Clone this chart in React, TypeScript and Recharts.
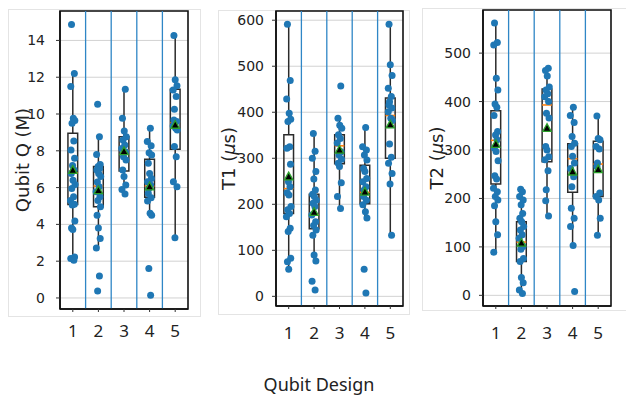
import React from 'react';
import { ComposedChart, Scatter, Line, XAxis, YAxis, CartesianGrid, ReferenceLine, ReferenceArea } from 'recharts';

// qubit designs on the x axis
const CATS = [1, 2, 3, 4, 5];
// horizontal spread of the strip points (in category units)
const JITTER = [-0.05, 0.06, -0.08, 0.02, 0.08, -0.03, 0.04, -0.07, 0.07, -0.01, 0.05, -0.06, 0.01, 0.09, -0.04, 0.03, -0.09, 0.06, -0.02, 0.08, -0.05, 0.0, 0.07, -0.08, 0.04, -0.03];

// Qubit Q (M)
const Q_VALUES = [
  [14.87, 12.2, 11.5, 9.77, 9.65, 9.5, 8.53, 8.05, 7.6, 7.2, 6.95, 6.77, 6.4, 6.17, 5.95, 5.5, 5.3, 5.1, 5.05, 4.19, 3.8, 3.72, 2.23, 2.14, 2.05],
  [10.53, 8.77, 7.8, 7.26, 7.14, 7.05, 6.95, 6.77, 6.6, 6.3, 6.05, 5.77, 5.5, 5.3, 4.96, 4.5, 3.81, 3.23, 2.72, 1.2, 0.38],
  [11.35, 9.77, 9.08, 8.77, 8.59, 8.32, 8.13, 7.95, 7.68, 7.5, 6.95, 6.6, 6.14, 5.9, 5.65],
  [9.22, 8.5, 8.28, 7.9, 7.77, 7.32, 6.77, 6.5, 6.32, 6.14, 5.95, 5.68, 5.45, 5.27, 4.6, 4.5, 1.6, 0.15],
  [14.27, 11.86, 11.53, 11.31, 10.95, 10.26, 9.68, 9.59, 9.35, 9.22, 9.13, 8.23, 7.68, 6.32, 6.05, 3.27],
];
const Q_LO = [2.05, 2.72, 5.65, 4.5, 3.27];
const Q_Q1 = [5.08, 4.96, 6.9, 5.47, 8.08];
const Q_MED = [6.8, 6.08, 8.03, 6.08, 9.53];
const Q_Q3 = [8.95, 7.14, 8.77, 7.54, 11.35];
const Q_HI = [12.2, 8.77, 11.35, 9.22, 14.27];
const Q_MEAN = [6.95, 5.85, 7.97, 6.05, 9.4];
const Q_TICKS = [0, 2, 4, 6, 8, 10, 12, 14];

// T1 (us)
const T1_VALUES = [
  [591, 469, 429, 398, 385, 380, 325, 322, 287, 249, 238, 225, 220, 195, 188, 180, 173, 148, 141, 83, 75, 59],
  [354, 315, 300, 271, 255, 231, 222, 217, 209, 202, 195, 177, 162, 154, 144, 133, 90, 77, 33, 14],
  [457, 387, 372, 365, 351, 343, 333, 314, 307, 298, 289, 282, 247, 217, 191],
  [367, 325, 318, 307, 296, 278, 271, 256, 249, 238, 231, 217, 209, 199, 184, 170, 59, 7],
  [591, 503, 480, 452, 434, 423, 416, 409, 401, 387, 382, 331, 302, 289, 267, 244, 133],
];
const T1_LO = [59, 75, 191, 170, 133];
const T1_Q1 = [180, 147, 288, 201, 300];
const T1_MED = [234, 177, 327, 226, 393];
const T1_Q3 = [351, 222, 351, 285, 431];
const T1_HI = [591, 354, 387, 367, 591];
const T1_MEAN = [260, 183, 318, 227, 373];
const T1_TICKS = [0, 100, 200, 300, 400, 500, 600];

// T2 (us)
const T2_VALUES = [
  [562, 522, 517, 448, 424, 395, 388, 371, 338, 331, 321, 304, 297, 278, 247, 240, 221, 214, 204, 197, 185, 152, 125, 89],
  [219, 214, 204, 197, 187, 169, 159, 152, 142, 135, 125, 118, 101, 95, 76, 70, 37, 26, 11, 4],
  [469, 464, 453, 430, 424, 416, 410, 400, 376, 366, 307, 300, 286, 280, 257, 218, 195, 164],
  [388, 371, 357, 328, 314, 307, 287, 273, 262, 245, 224, 180, 159, 142, 103, 8],
  [370, 324, 321, 307, 302, 273, 266, 211, 204, 197, 159, 124],
];
const T2_LO = [89, 4, 164, 103, 124];
const T2_Q1 = [230, 70, 276, 213, 204];
const T2_MED = [320, 110, 393, 282, 271];
const T2_Q3 = [381, 152, 426, 313, 318];
const T2_HI = [562, 219, 469, 388, 370];
const T2_MEAN = [312, 108, 345, 255, 260];
const T2_TICKS = [0, 100, 200, 300, 400, 500];

const BLUE = '#1f77b4';
const HALF = 0.19;

const Dot = (props: any) => <circle cx={props.cx} cy={props.cy} r={3.5} fill={BLUE} />;

const MeanMark = (props: any) => {
  const { cx, cy } = props;
  return (
    <polygon
      points={`${cx},${cy - 4.5} ${cx - 4.2},${cy + 3.2} ${cx + 4.2},${cy + 3.2}`}
      fill="#000"
      stroke="#2ca02c"
      strokeWidth={1.3}
    />
  );
};

const AxisTitle = ({ viewBox, offset, children }: any) => {
  const cx = viewBox.x + offset;
  const cy = viewBox.y + viewBox.height / 2;
  return (
    <text
      x={cx}
      y={cy}
      transform={`rotate(-90, ${cx}, ${cy})`}
      textAnchor="middle"
      dominantBaseline="central"
      fontSize={18}
      fontFamily="DejaVu Sans"
      fill="#222"
    >
      {children}
    </text>
  );
};

type PanelProps = {
  left: number;
  yAxisWidth: number;
  marginTop: number;
  marginRight: number;
  xAxisHeight: number;
  tickGap: number;
  yTickGap: number;
  domain: [number, number];
  ticks: number[];
  values: number[][];
  lo: number[];
  q1: number[];
  med: number[];
  q3: number[];
  hi: number[];
  mean: number[];
  titleOffset: number;
  title: React.ReactNode;
};

const Panel = (p: PanelProps) => {
  const points = p.values.flatMap((vals, i) =>
    vals.map((v, j) => ({ x: CATS[i] + JITTER[(j + i * 5) % JITTER.length], y: v }))
  );
  const means = CATS.map((c, i) => ({ x: c, y: p.mean[i] }));

  return (
    <div style={{ position: 'absolute', left: p.left, top: 0 }}>
      <ComposedChart
        width={200}
        height={345}
        margin={{ top: p.marginTop, right: p.marginRight, left: 0, bottom: 0 }}
      >
        <CartesianGrid vertical={false} stroke="#d2d2d2" strokeWidth={1} />
        <XAxis
          dataKey="x"
          type="number"
          domain={[0.5, 5.5]}
          ticks={CATS}
          allowDataOverflow
          height={p.xAxisHeight}
          tickSize={3}
          tickMargin={p.tickGap}
          axisLine={{ stroke: '#111', strokeWidth: 1.5 }}
          tickLine={{ stroke: '#333' }}
          tick={{ fontSize: 17, fontFamily: 'Noto Sans', fill: '#222' }}
        />
        <YAxis
          type="number"
          domain={p.domain}
          ticks={p.ticks}
          allowDataOverflow
          width={p.yAxisWidth}
          tickSize={4}
          tickMargin={p.yTickGap}
          axisLine={{ stroke: '#111', strokeWidth: 1.5 }}
          tickLine={{ stroke: '#333' }}
          tick={{ fontSize: 14, fontFamily: 'DejaVu Sans', fill: '#222' }}
          label={{ content: (lp: any) => <AxisTitle {...lp} offset={p.titleOffset}>{p.title}</AxisTitle> }}
        />
        {[1.5, 2.5, 3.5, 4.5].map((x) => (
          <ReferenceLine key={`sep-${x}`} x={x} stroke="#2f86c6" strokeWidth={1.3} />
        ))}
        {CATS.map((c, i) => (
          <ReferenceArea
            key={`box-${c}`}
            x1={c - HALF}
            x2={c + HALF}
            y1={p.q1[i]}
            y2={p.q3[i]}
            fill="none"
            fillOpacity={0}
            stroke="#2b2b2b"
            strokeWidth={1.5}
          />
        ))}
        {CATS.map((c, i) => (
          <ReferenceLine
            key={`wl-${c}`}
            segment={[{ x: c, y: p.lo[i] }, { x: c, y: p.q1[i] }]}
            stroke="#2b2b2b"
            strokeWidth={1.5}
          />
        ))}
        {CATS.map((c, i) => (
          <ReferenceLine
            key={`wh-${c}`}
            segment={[{ x: c, y: p.q3[i] }, { x: c, y: p.hi[i] }]}
            stroke="#2b2b2b"
            strokeWidth={1.5}
          />
        ))}
        <Scatter data={points} dataKey="y" shape={Dot} isAnimationActive={false} />
        {CATS.map((c, i) => (
          <Line
            key={`med-${c}`}
            data={[{ x: c - HALF, y: p.med[i] }, { x: c + HALF, y: p.med[i] }]}
            dataKey="y"
            stroke="#ff7f0e"
            strokeWidth={1.6}
            dot={false}
            activeDot={false}
            isAnimationActive={false}
          />
        ))}
        <Scatter data={means} dataKey="y" shape={MeanMark} isAnimationActive={false} />
        <ReferenceArea
          x1={0.5}
          x2={5.5}
          y1={p.domain[0]}
          y2={p.domain[1]}
          fill="none"
          fillOpacity={0}
          stroke="#111"
          strokeWidth={1.6}
        />
      </ComposedChart>
    </div>
  );
};

const frame = (left: number, top: number, width: number, height: number): React.CSSProperties => ({
  position: 'absolute',
  left,
  top,
  width,
  height,
  border: '1px solid #e4e4e4',
  boxSizing: 'border-box',
});

export default function App() {
  return (
    <div style={{ position: 'relative', width: 634, height: 403, margin: -8, background: '#fff', overflow: 'hidden' }}>
      <div style={frame(8, 9, 193, 308)} />
      <div style={frame(218, 10, 192, 305)} />
      <div style={frame(422, 8, 230, 303)} />

      <Panel
        left={0}
        yAxisWidth={60}
        marginTop={11}
        marginRight={12}
        xAxisHeight={36}
        tickGap={13}
        yTickGap={11}
        domain={[-0.6, 15.6]}
        ticks={Q_TICKS}
        values={Q_VALUES}
        lo={Q_LO}
        q1={Q_Q1}
        med={Q_MED}
        q3={Q_Q3}
        hi={Q_HI}
        mean={Q_MEAN}
        titleOffset={22}
        title="Qubit Q (M)"
      />
      <Panel
        left={210}
        yAxisWidth={66}
        marginTop={11}
        marginRight={7}
        xAxisHeight={39}
        tickGap={18}
        yTickGap={8}
        domain={[-21, 620]}
        ticks={T1_TICKS}
        values={T1_VALUES}
        lo={T1_LO}
        q1={T1_Q1}
        med={T1_MED}
        q3={T1_Q3}
        hi={T1_HI}
        mean={T1_MEAN}
        titleOffset={18}
        title={<>T1 (<tspan fontStyle="italic">μ</tspan>s)</>}
      />
      <Panel
        left={420}
        yAxisWidth={63}
        marginTop={10}
        marginRight={9}
        xAxisHeight={39}
        tickGap={18}
        yTickGap={8}
        domain={[-22, 589]}
        ticks={T2_TICKS}
        values={T2_VALUES}
        lo={T2_LO}
        q1={T2_Q1}
        med={T2_MED}
        q3={T2_Q3}
        hi={T2_HI}
        mean={T2_MEAN}
        titleOffset={16}
        title={<>T2 (<tspan fontStyle="italic">μ</tspan>s)</>}
      />

      <div
        style={{
          position: 'absolute',
          left: 0,
          width: 634,
          top: 374,
          textAlign: 'center',
          fontFamily: 'Noto Sans',
          fontSize: 18,
          lineHeight: '20px',
          color: '#222',
          paddingLeft: 4,
          boxSizing: 'border-box',
        }}
      >
        Qubit Design
      </div>
    </div>
  );
}
